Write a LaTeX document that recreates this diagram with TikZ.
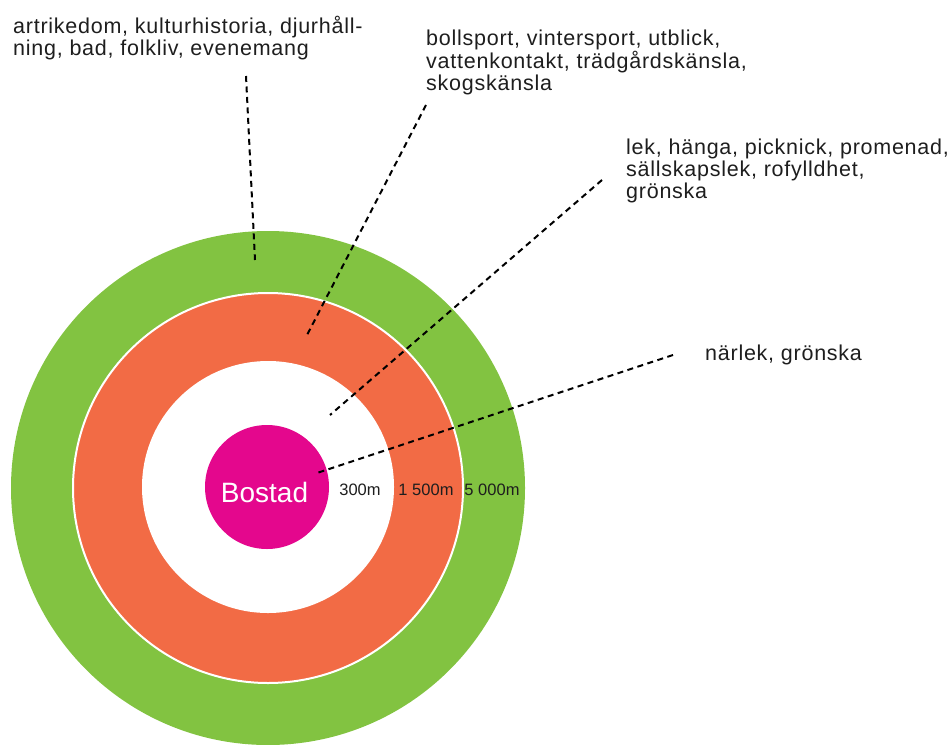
\documentclass[tikz,border=0pt]{standalone}
\usepackage{fontspec}
\setmainfont{Liberation Sans}
\newfontfamily\trackedfont[LetterSpace=3.5]{Liberation Sans}
\usetikzlibrary{positioning}
\definecolor{zoneGreen}{RGB}{130,195,65}
\definecolor{zoneOrange}{RGB}{242,107,69}
\definecolor{zoneMagenta}{RGB}{228,7,141}
\definecolor{textGray}{RGB}{30,30,30}

\begin{document}
\begin{tikzpicture}[
        x=1pt, y=-1pt,
        zone/.style={circle, draw=none, inner sep=0pt},
        note/.style={anchor=base west, inner sep=0pt, align=left, text=textGray, font=\trackedfont\fontsize{21.5}{21.7}\selectfont},
        dist/.style={anchor=base, inner sep=0pt, text=textGray, font=\fontsize{16.5}{18}\selectfont},
        leader/.style={draw=black, line width=2pt, dash pattern=on 6pt off 4.5pt}
    ]
        \useasboundingbox (0,0) rectangle (952,744);

        % Zones
        \node[zone, fill=zoneGreen, minimum size=514pt] (z5000) at (268,488) {};
        \node[zone, fill=zoneOrange, draw=white, line width=2pt, minimum size=390pt] (z1500) at (268,488) {};
        \node[zone, fill=white, minimum size=252pt] (z300) at (268,487) {};
        \node[zone, fill=zoneMagenta, minimum size=124pt] (bostad) at (267,487) {};
        \node[anchor=base, inner sep=0pt, text=white, font=\fontsize{28}{30}\selectfont] (bostadtxt) at (264.5,502) {Bostad};

        % Distances
        \node[dist] (d300) at (360,495) {300m};
        \node[dist] (d1500) at (426,495) {1 500m};
        \node[dist] (d5000) at (492,495) {5 000m};

        % Notes (base = last line)
        \node[note] (n5000) at (13,55) {artrikedom, kulturhistoria, djurhåll-\\ning, bad, folkliv, evenemang};
        \node[note] (n1500) at (426,90) {bollsport, vintersport, utblick,\\vattenkontakt, trädgårdskänsla,\\skogskänsla};
        \node[note] (n300) at (626,198) {lek, hänga, picknick, promenad,\\sällskapslek, rofylldhet,\\grönska};
        \node[note] (nhome) at (705,360) {närlek, grönska};

        % Leaders
        \coordinate (a1) at (246,76);   \coordinate (b1) at (255,260);
        \coordinate (a2) at (426,105);  \coordinate (b2) at (306,337);
        \coordinate (a3) at (602,180);  \coordinate (b3) at (330,415);
        \coordinate (a4) at (673,355);  \coordinate (b4) at (317,473);
        \draw[leader] (a1) -- (b1);
        \draw[leader] (a2) -- (b2);
        \draw[leader] (a3) -- (b3);
        \draw[leader] (a4) -- (b4);
\end{tikzpicture}
\end{document}
